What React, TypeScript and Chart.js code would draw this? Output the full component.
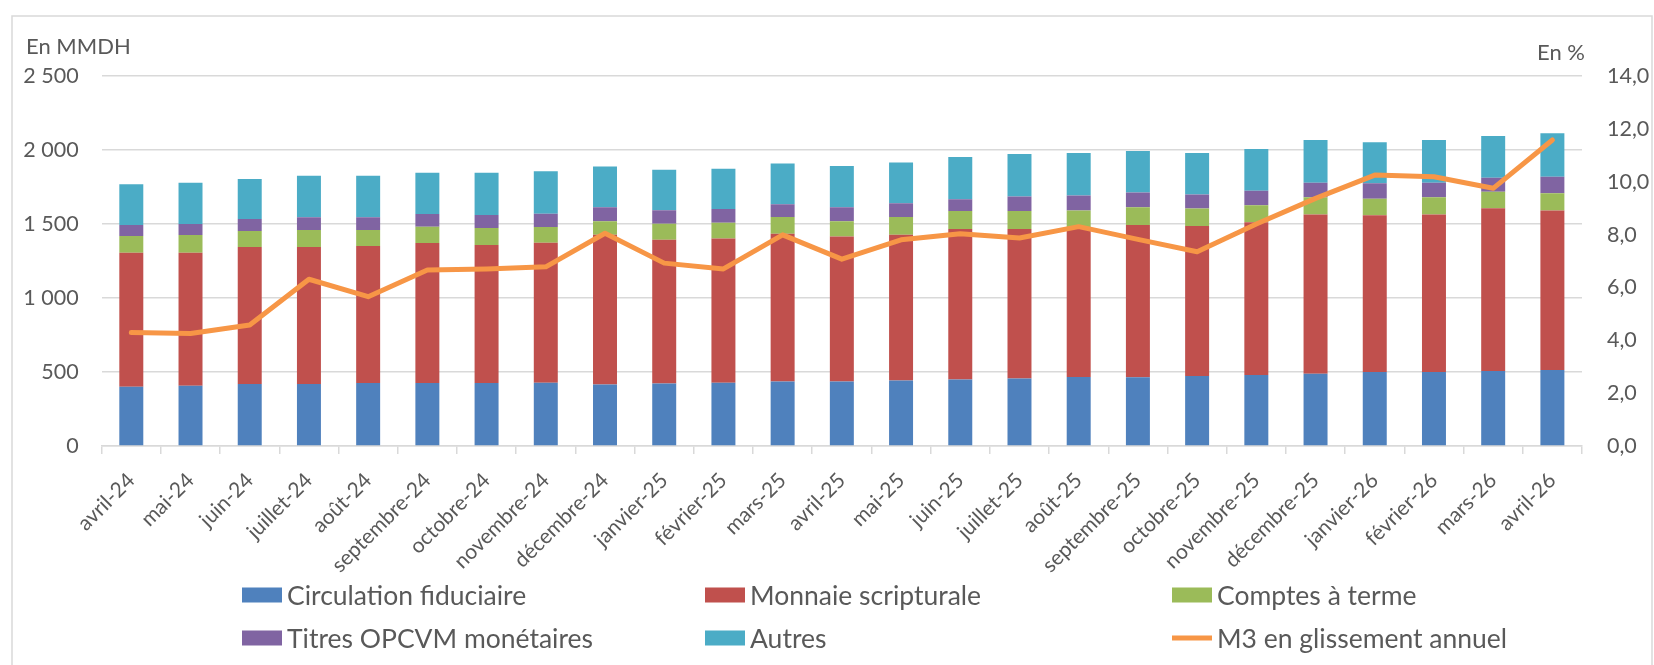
import React, { useEffect, useRef } from 'react';
import { Chart, registerables } from 'chart.js';

Chart.register(...registerables);

const categories = [
  'avril-24', 'mai-24', 'juin-24', 'juillet-24', 'août-24', 'septembre-24', 'octobre-24',
  'novembre-24', 'décembre-24', 'janvier-25', 'février-25', 'mars-25', 'avril-25', 'mai-25',
  'juin-25', 'juillet-25', 'août-25', 'septembre-25', 'octobre-25', 'novembre-25',
  'décembre-25', 'janvier-26', 'février-26', 'mars-26', 'avril-26',
];

const circulationFiduciaire = [400, 407, 419, 419, 426, 426, 426, 427, 416, 422, 427, 436, 436, 443, 449, 456, 466, 464, 473, 480, 489, 500, 500, 507, 514];
const monnaieScripturale = [906, 899, 926, 926, 925, 946, 932, 946, 1011, 971, 975, 998, 980, 984, 1018, 1011, 1009, 1029, 1013, 1031, 1076, 1059, 1065, 1099, 1078];
const comptesATerme = [113, 120, 108, 114, 108, 110, 115, 106, 92, 108, 106, 114, 103, 121, 120, 120, 117, 120, 118, 115, 115, 112, 115, 112, 115];
const titresOPCVM = [74, 74, 81, 86, 86, 86, 88, 90, 94, 92, 94, 86, 94, 92, 80, 98, 101, 99, 96, 99, 99, 104, 99, 95, 113];
const autres = [275, 279, 270, 281, 281, 279, 286, 287, 275, 274, 272, 274, 279, 275, 286, 288, 287, 281, 280, 282, 289, 277, 289, 282, 293];
const m3Glissement = [4.29, 4.26, 4.58, 6.31, 5.65, 6.66, 6.70, 6.78, 8.05, 6.92, 6.70, 7.99, 7.07, 7.80, 8.03, 7.87, 8.30, 7.82, 7.35, 8.40, 9.37, 10.25, 10.19, 9.75, 11.58];

const leftTickLabels = ['0', '500', '1 000', '1 500', '2 000', '2 500'];
const rightTickLabels = ['0,0', '2,0', '4,0', '6,0', '8,0', '10,0', '12,0', '14,0'];

const seriesNames = [
  'Circulation fiduciaire',
  'Monnaie scripturale',
  'Comptes à terme',
  'Titres OPCVM monétaires',
  'Autres',
  'M3 en glissement annuel',
];

const FONT = 'Lato';
const TEXT = '#595959';
const GRID = '#d9d9d9';
const COLORS = ['#4F81BD', '#C0504D', '#9BBB59', '#8064A2', '#4BACC6', '#F79646'];

export default function App() {
  const ref = useRef<HTMLCanvasElement>(null);

  useEffect(() => {
    document.body.style.margin = '0';
    document.body.style.overflow = 'hidden';
    const canvas = ref.current;
    if (!canvas) return;

    const framePlugin = {
      id: 'frame',
      beforeDraw(chart: any) {
        const ctx = chart.ctx;
        ctx.save();
        ctx.fillStyle = '#ffffff';
        ctx.fillRect(0, 0, chart.width, chart.height);
        ctx.strokeStyle = GRID;
        ctx.lineWidth = 1.5;
        ctx.strokeRect(12, 16, 1640, 720);
        ctx.restore();
      },
    };

    const decorPlugin = {
      id: 'decor',
      afterDraw(chart: any) {
        const ctx = chart.ctx;
        ctx.save();
        ctx.fillStyle = TEXT;
        ctx.font = `22px ${FONT}`;
        ctx.textBaseline = 'middle';
        ctx.textAlign = 'left';
        ctx.fillText('En MMDH', 26, 47);
        ctx.textAlign = 'right';
        ctx.fillText('En %', 1585, 53);

        // legend (3 columns x 2 rows)
        const colX = [242, 705, 1172];
        const rowY = [595, 638];
        ctx.font = `26.5px ${FONT}`;
        ctx.textAlign = 'left';
        seriesNames.forEach((name, i) => {
          const x = colX[i % 3];
          const y = rowY[Math.floor(i / 3)];
          if (i === 5) {
            ctx.strokeStyle = COLORS[i];
            ctx.lineWidth = 5;
            ctx.beginPath();
            ctx.moveTo(x, y);
            ctx.lineTo(x + 40, y);
            ctx.stroke();
          } else {
            ctx.fillStyle = COLORS[i];
            ctx.fillRect(x, y - 7.5, 40, 15);
          }
          ctx.fillStyle = TEXT;
          ctx.fillText(name, x + 45, y + 1);
        });
        ctx.restore();
      },
    };

    const barSeries = [circulationFiduciaire, monnaieScripturale, comptesATerme, titresOPCVM, autres];

    const datasets: any[] = barSeries.map((data, i) => ({
      type: 'bar',
      label: seriesNames[i],
      data,
      backgroundColor: COLORS[i],
      borderWidth: 0,
      yAxisID: 'y',
      stack: 'm3',
      order: 1,
      barPercentage: 0.405,
      categoryPercentage: 1.0,
    }));
    datasets.push({
      type: 'line',
      label: seriesNames[5],
      data: m3Glissement,
      borderColor: COLORS[5],
      backgroundColor: COLORS[5],
      borderWidth: 5,
      pointRadius: 0,
      tension: 0,
      yAxisID: 'y1',
      order: 0,
      borderCapStyle: 'round',
      borderJoinStyle: 'round',
    });

    let chart: Chart | null = null;
    let cancelled = false;

    const build = () => {
      if (cancelled) return;
      chart = new Chart(canvas, {
        type: 'bar',
        data: { labels: categories, datasets },
        plugins: [framePlugin, decorPlugin],
        options: {
          responsive: false,
          animation: false,
          devicePixelRatio: 1,
          layout: { padding: { top: 76, left: 0, right: 0, bottom: 9 } },
          font: { family: FONT },
          plugins: {
            legend: { display: false },
            tooltip: { enabled: false },
            title: { display: false },
          },
          scales: {
            x: {
              stacked: true,
              offset: true,
              grid: {
                offset: true,
                drawOnChartArea: false,
                drawTicks: true,
                tickLength: 8,
                color: GRID,
                lineWidth: 1.5,
              },
              border: { display: true, color: GRID, width: 1.5 },
              ticks: {
                autoSkip: false,
                minRotation: 45,
                maxRotation: 45,
                padding: 14,
                color: TEXT,
                font: { family: FONT, size: 21 },
              },
              afterFit: (s: any) => { s.height = 210; },
            },
            y: {
              stacked: true,
              position: 'left',
              min: 0,
              max: 2500,
              ticks: {
                stepSize: 500,
                padding: 23,
                color: TEXT,
                font: { family: FONT, size: 21.5 },
                callback: (v: any) => leftTickLabels[Math.round(Number(v) / 500)],
              },
              grid: { color: GRID, lineWidth: 1.5, drawTicks: false },
              border: { display: false },
              afterFit: (s: any) => { s.width = 101.7; },
            },
            y1: {
              position: 'right',
              min: 0,
              max: 14,
              ticks: {
                stepSize: 2,
                padding: 25,
                color: TEXT,
                font: { family: FONT, size: 21.5 },
                callback: (v: any) => rightTickLabels[Math.round(Number(v) / 2)],
              },
              grid: { display: false, drawTicks: false },
              border: { display: false },
              afterFit: (s: any) => { s.width = 72; },
            },
          },
        } as any,
      });
    };

    const fontsApi: any = (document as any).fonts;
    if (fontsApi && fontsApi.load) {
      Promise.all([fontsApi.load(`21px ${FONT}`), fontsApi.load(`26px ${FONT}`)])
        .catch(() => undefined)
        .then(build);
    } else {
      build();
    }

    return () => {
      cancelled = true;
      if (chart) chart.destroy();
    };
  }, []);

  return <canvas ref={ref} width={1654} height={665} style={{ display: 'block' }} />;
}
